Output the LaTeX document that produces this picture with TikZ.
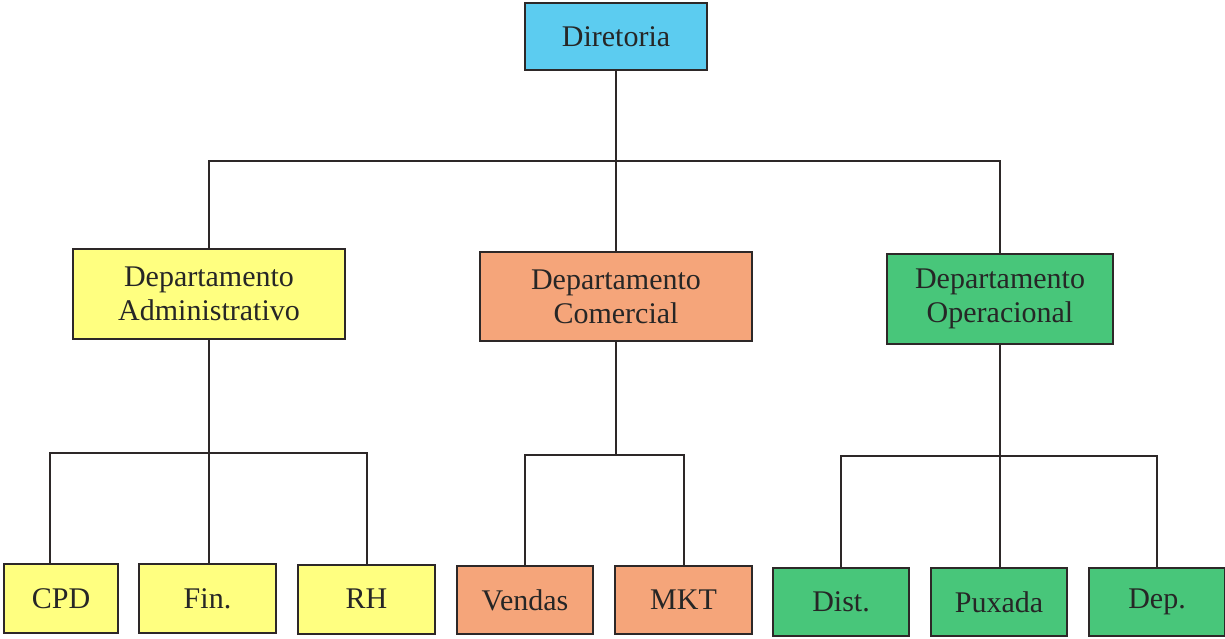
\documentclass[tikz,border=0pt]{standalone}
\usepackage{fontspec}
\setmainfont{Liberation Serif}
\definecolor{cdir}{RGB}{92,204,240}
\definecolor{cadm}{RGB}{255,255,128}
\definecolor{ccom}{RGB}{245,165,122}
\definecolor{cope}{RGB}{72,198,122}
\definecolor{cline}{RGB}{45,40,40}
\begin{document}
\begin{tikzpicture}[x=1pt,y=-1pt,
  box/.style={draw=cline,line width=2pt,inner sep=0pt,align=center,
    font=\fontsize{30}{34}\selectfont,text=black!85},
  link/.style={draw=cline,line width=2pt}]
\useasboundingbox (0,0) rectangle (1225,638);
% top level
\node[box,fill=cdir,minimum width=182pt,minimum height=67pt] (dir) at (616,36.5) {Diretoria};
% departments
\node[box,fill=cadm,minimum width=272pt,minimum height=90pt] (adm) at (209,294) {Departamento\\Administrativo};
\node[box,fill=ccom,minimum width=272pt,minimum height=89pt] (com) at (616,296.5) {Departamento\\Comercial};
\node[box,fill=cope,minimum width=226pt,minimum height=90pt] (ope) at (1000,299) {Departamento\\Operacional};
% units
\node[box,fill=cadm,minimum width=114pt,minimum height=69pt] (cpd) at (61,598.5) {CPD};
\node[box,fill=cadm,minimum width=137pt,minimum height=69pt] (fin) at (207.5,598.5) {Fin.};
\node[box,fill=cadm,minimum width=137pt,minimum height=69pt] (rh) at (366.5,599) {RH};
\node[box,fill=ccom,minimum width=136pt,minimum height=68pt] (ven) at (525,600) {Vendas};
\node[box,fill=ccom,minimum width=137pt,minimum height=68pt] (mkt) at (683.5,600) {MKT};
\node[box,fill=cope,minimum width=136pt,minimum height=68pt] (dist) at (841,602) {Dist.};
\node[box,fill=cope,minimum width=136pt,minimum height=68pt] (pux) at (999,602) {Puxada};
\node[box,fill=cope,minimum width=136pt,minimum height=68pt] (dep) at (1157,602) {Dep.};
% bus levels and off-centre drop point
\coordinate (bus0) at (0,161);
\coordinate (busA) at (0,453);
\coordinate (busC) at (0,455);
\coordinate (busO) at (0,456);
\coordinate (cpdin) at ([xshift=-11pt]cpd.north);
% connectors
\draw[link] (dir.south) -- (dir.south |- com.north);
\draw[link] (adm.north) |- (ope.north |- bus0) -- (ope.north);
\draw[link] (adm.south) -- (fin.north -| adm.south);
\draw[link] (cpdin) |- (rh.north |- busA) -- (rh.north);
\draw[link] (com.south) -- (com.south |- busC);
\draw[link] (ven.north) |- (mkt.north |- busC) -- (mkt.north);
\draw[link] (ope.south) -- (pux.north -| ope.south);
\draw[link] (dist.north) |- (dep.north |- busO) -- (dep.north);
\end{tikzpicture}
\end{document}
